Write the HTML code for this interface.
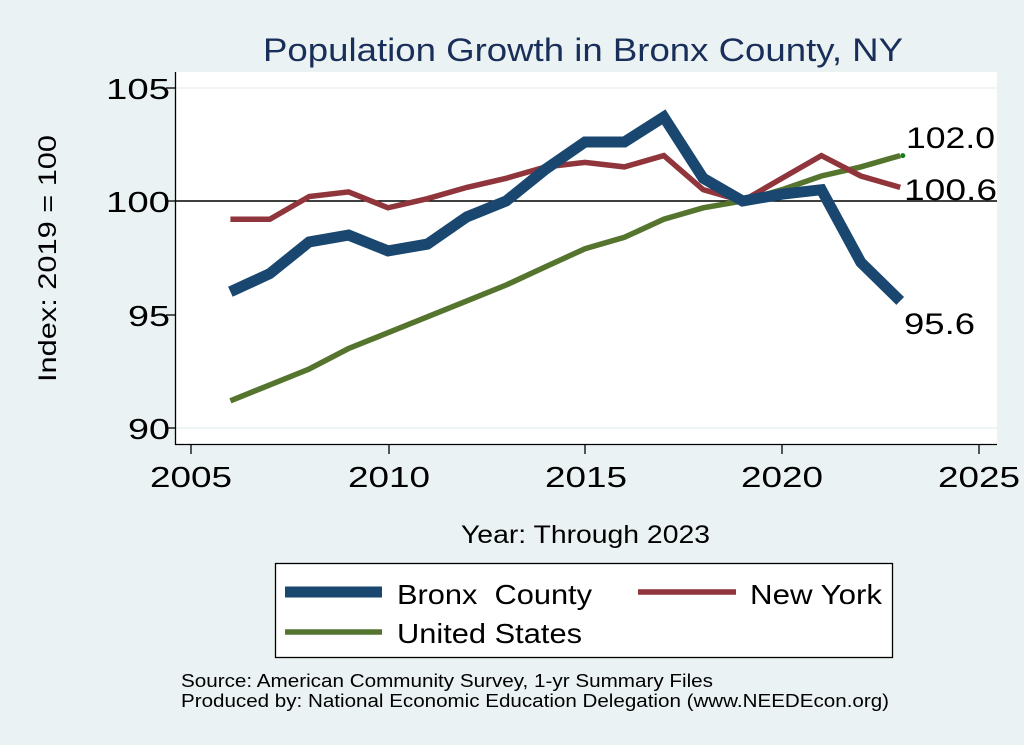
<!DOCTYPE html>
<html><head><style>
body{margin:0;background:#eaf2f3;}
svg{display:block;font-family:"Liberation Sans",sans-serif;}
</style></head><body>
<svg id="s" width="1024" height="745" xmlns="http://www.w3.org/2000/svg">
<rect width="1024" height="745" fill="#eaf2f3"/>
<rect x="176" y="72" width="821" height="372" fill="#fff"/>
<line x1="176" y1="88" x2="997" y2="88" stroke="#eaf2f3" stroke-width="1.5"/>
<line x1="176" y1="428" x2="997" y2="428" stroke="#eaf2f3" stroke-width="1.5"/>
<line x1="176" y1="201" x2="997" y2="201" stroke="#000" stroke-width="1.5"/>
<line x1="175.5" y1="72" x2="175.5" y2="445" stroke="#000" stroke-width="1.3"/>
<line x1="175" y1="444.5" x2="997" y2="444.5" stroke="#000" stroke-width="1.3"/>
<g stroke="#000" stroke-width="1.3">
<line x1="166" y1="88" x2="175" y2="88"/><line x1="166" y1="201" x2="175" y2="201"/>
<line x1="166" y1="315" x2="175" y2="315"/><line x1="166" y1="428" x2="175" y2="428"/>
<line x1="191" y1="445" x2="191" y2="454"/><line x1="389" y1="445" x2="389" y2="454"/>
<line x1="585" y1="445" x2="585" y2="454"/><line x1="782" y1="445" x2="782" y2="454"/>
<line x1="979" y1="445" x2="979" y2="454"/>
</g>
<g font-size="29" fill="#000" lengthAdjust="spacingAndGlyphs">
<text x="106" y="99" textLength="64" lengthAdjust="spacingAndGlyphs">105</text>
<text x="106" y="212" textLength="64" lengthAdjust="spacingAndGlyphs">100</text>
<text x="128" y="326" textLength="42" lengthAdjust="spacingAndGlyphs">95</text>
<text x="128" y="439" textLength="42" lengthAdjust="spacingAndGlyphs">90</text>
</g>
<g font-size="29">
<text x="150" y="487" textLength="82" lengthAdjust="spacingAndGlyphs">2005</text>
<text x="348" y="487" textLength="82" lengthAdjust="spacingAndGlyphs">2010</text>
<text x="545" y="487" textLength="82" lengthAdjust="spacingAndGlyphs">2015</text>
<text x="741" y="487" textLength="82" lengthAdjust="spacingAndGlyphs">2020</text>
<text x="938" y="487" textLength="82" lengthAdjust="spacingAndGlyphs">2025</text>
</g>
<text x="263" y="61" font-size="32" fill="#1a2e5a" textLength="640" lengthAdjust="spacingAndGlyphs">Population Growth in Bronx County, NY</text>
<text x="461" y="543" font-size="25" textLength="249" lengthAdjust="spacingAndGlyphs">Year: Through 2023</text>
<text transform="translate(56,382) rotate(-90)" font-size="25" textLength="247" lengthAdjust="spacingAndGlyphs">Index: 2019 = 100</text>
<g id="lines"></g>
<circle cx="902.8" cy="155.6" r="2.5" fill="#1a7a1a"/>
<g font-size="30">
<text x="906" y="148" textLength="89" lengthAdjust="spacingAndGlyphs">102.0</text>
<text x="904" y="200" textLength="93" lengthAdjust="spacingAndGlyphs">100.6</text>
<text x="904" y="334" textLength="71" lengthAdjust="spacingAndGlyphs">95.6</text>
</g>
<rect x="275.5" y="563.5" width="617" height="94" fill="#fff" stroke="#000" stroke-width="1.3"/>
<line x1="285" y1="592" x2="382" y2="592" stroke="#1a476f" stroke-width="11"/>
<line x1="638" y1="592" x2="736" y2="592" stroke="#90353b" stroke-width="5.5"/>
<line x1="285" y1="632" x2="382" y2="632" stroke="#55752f" stroke-width="5.5"/>
<g font-size="28">
<text x="397" y="604" textLength="195" lengthAdjust="spacingAndGlyphs">Bronx&#160; County</text>
<text x="750" y="604" textLength="132" lengthAdjust="spacingAndGlyphs">New York</text>
<text x="397" y="643" textLength="185" lengthAdjust="spacingAndGlyphs">United States</text>
</g>
<g font-size="18">
<text x="181" y="687" textLength="532" lengthAdjust="spacingAndGlyphs">Source: American Community Survey, 1-yr Summary Files</text>
<text x="181" y="707" textLength="708" lengthAdjust="spacingAndGlyphs">Produced by: National Economic Education Delegation (www.NEEDEcon.org)</text>
</g>
</svg>
<script>
var bx=[96.0,96.8,98.2,98.5,97.8,98.1,99.3,100.0,101.4,102.6,102.6,103.7,101.0,100.0,100.3,100.5,97.3,95.6];
var ny=[99.2,99.2,100.2,100.4,99.7,100.1,100.6,101.0,101.5,101.7,101.5,102.0,100.5,100.0,101.0,102.0,101.1,100.6];
var us=[91.2,91.9,92.6,93.5,94.2,94.9,95.6,96.3,97.1,97.9,98.4,99.2,99.7,100.0,100.5,101.1,101.5,102.0];
function pts(a){return a.map(function(v,i){return (191+(2006+i-2005)*39.4).toFixed(1)+","+(201-(v-100)*22.7).toFixed(1)}).join(" ")}
var g=document.getElementById("lines");
g.innerHTML='<polyline points="'+pts(us)+'" fill="none" stroke="#55752f" stroke-width="5.5"/>'+
'<polyline points="'+pts(ny)+'" fill="none" stroke="#90353b" stroke-width="5.5"/>'+
'<polyline points="'+pts(bx)+'" fill="none" stroke="#1a476f" stroke-width="11"/>';
</script>
</body></html>
